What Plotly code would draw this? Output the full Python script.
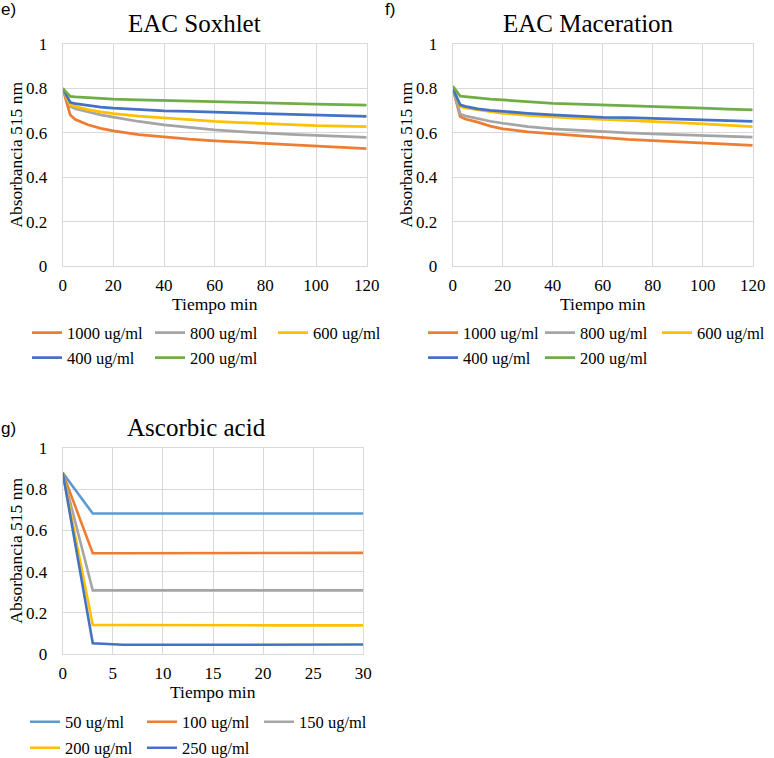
import plotly.graph_objects as go

# ---------------- data ----------------
time_ext = [0, 3, 5, 10, 15, 20, 30, 40, 50, 60, 70, 80, 90, 100, 110, 120]
conc_labels_ext = ["1000 ug/ml", "800 ug/ml", "600 ug/ml", "400 ug/ml", "200 ug/ml"]

sox_1000 = [0.80, 0.680, 0.660, 0.636, 0.620, 0.609, 0.592, 0.580, 0.571, 0.564, 0.558, 0.553, 0.548, 0.542, 0.535, 0.529]
sox_800 = [0.80, 0.719, 0.708, 0.694, 0.681, 0.671, 0.651, 0.636, 0.623, 0.613, 0.605, 0.598, 0.593, 0.588, 0.583, 0.579]
sox_600 = [0.80, 0.726, 0.718, 0.704, 0.694, 0.686, 0.675, 0.666, 0.658, 0.651, 0.646, 0.641, 0.636, 0.632, 0.630, 0.628]
sox_400 = [0.80, 0.737, 0.731, 0.722, 0.716, 0.711, 0.704, 0.699, 0.696, 0.693, 0.688, 0.684, 0.681, 0.678, 0.676, 0.674]
sox_200 = [0.80, 0.764, 0.762, 0.758, 0.755, 0.752, 0.748, 0.745, 0.741, 0.738, 0.736, 0.734, 0.731, 0.729, 0.727, 0.725]

mac_1000 = [0.80, 0.673, 0.662, 0.648, 0.630, 0.618, 0.604, 0.595, 0.585, 0.576, 0.570, 0.565, 0.559, 0.553, 0.548, 0.543]
mac_800 = [0.80, 0.685, 0.676, 0.663, 0.652, 0.643, 0.628, 0.618, 0.611, 0.606, 0.600, 0.595, 0.591, 0.588, 0.584, 0.580]
mac_600 = [0.80, 0.718, 0.712, 0.703, 0.695, 0.688, 0.678, 0.670, 0.665, 0.660, 0.656, 0.651, 0.646, 0.640, 0.634, 0.628]
mac_400 = [0.80, 0.726, 0.719, 0.708, 0.701, 0.696, 0.688, 0.681, 0.675, 0.670, 0.668, 0.666, 0.662, 0.658, 0.655, 0.652]
mac_200 = [0.81, 0.765, 0.763, 0.756, 0.752, 0.748, 0.740, 0.733, 0.729, 0.726, 0.722, 0.718, 0.714, 0.711, 0.707, 0.703]

time_asc = [0, 3, 6, 9, 12, 15, 18, 21, 24, 27, 30]
conc_labels_asc = ["50 ug/ml", "100 ug/ml", "150 ug/ml", "200 ug/ml", "250 ug/ml"]
asc_50 = [0.88, 0.682, 0.682, 0.682, 0.682, 0.681, 0.681, 0.681, 0.681, 0.682, 0.682]
asc_100 = [0.88, 0.489, 0.489, 0.489, 0.489, 0.489, 0.489, 0.489, 0.489, 0.490, 0.491]
asc_150 = [0.88, 0.309, 0.309, 0.309, 0.309, 0.309, 0.309, 0.309, 0.309, 0.309, 0.309]
asc_200 = [0.88, 0.141, 0.141, 0.140, 0.140, 0.139, 0.139, 0.139, 0.139, 0.139, 0.139]
asc_250 = [0.88, 0.052, 0.045, 0.044, 0.044, 0.045, 0.045, 0.046, 0.046, 0.046, 0.046]

titles = ["EAC Soxhlet", "EAC Maceration", "Ascorbic acid"]
panel_tags = ["e)", "f)", "g)"]
x_title = "Tiempo min"
y_title = "Absorbancia 515 nm"

# ---------------- style ----------------
W, H = 774, 758
SERIF = "Liberation Serif, Times New Roman, serif"
SANS = "Liberation Sans, Arial, sans-serif"
GRID = "#d9d9d9"
ext_colors = ["#ED7D31", "#A5A5A5", "#FFC000", "#4472C4", "#70AD47"]
asc_colors = ["#5B9BD5", "#ED7D31", "#A5A5A5", "#FFC000", "#4472C4"]


def px_x(p):
    return p / W


def px_y(p):
    return 1 - p / H


fig = go.Figure()

sox = [sox_1000, sox_800, sox_600, sox_400, sox_200]
mac = [mac_1000, mac_800, mac_600, mac_400, mac_200]
asc = [asc_50, asc_100, asc_150, asc_200, asc_250]

leg_e = ["legend", "legend", "legend", "legend2", "legend2"]
leg_f = ["legend3", "legend3", "legend3", "legend4", "legend4"]
leg_g = ["legend5", "legend5", "legend5", "legend6", "legend6"]

for i, ys in enumerate(sox):
    fig.add_trace(go.Scatter(x=time_ext, y=ys, mode="lines", name=conc_labels_ext[i],
                             line=dict(color=ext_colors[i], width=2.75),
                             xaxis="x", yaxis="y", legend=leg_e[i]))
for i, ys in enumerate(mac):
    fig.add_trace(go.Scatter(x=time_ext, y=ys, mode="lines", name=conc_labels_ext[i],
                             line=dict(color=ext_colors[i], width=2.75),
                             xaxis="x2", yaxis="y2", legend=leg_f[i]))
for i, ys in enumerate(asc):
    fig.add_trace(go.Scatter(x=time_asc, y=ys, mode="lines", name=conc_labels_asc[i],
                             line=dict(color=asc_colors[i], width=2.6),
                             xaxis="x3", yaxis="y3", legend=leg_g[i]))

tickfont = dict(family=SERIF, size=17, color="#000000")


def xax(domain, rng, dtick, anchor):
    return dict(domain=domain, range=rng, dtick=dtick, tick0=0, anchor=anchor,
                showgrid=True, gridcolor=GRID, gridwidth=1,
                showline=True, linecolor=GRID, linewidth=1.2, mirror=True,
                zeroline=False, ticks="", tickfont=tickfont, ticklabelstandoff=3,
                automargin=False, fixedrange=True)


def yax(domain, anchor):
    return dict(domain=domain, range=[0, 1], dtick=0.2, tick0=0, anchor=anchor,
                showgrid=True, gridcolor=GRID, gridwidth=1,
                showline=True, linecolor=GRID, linewidth=1.2, mirror=True,
                zeroline=False, ticks="", tickfont=tickfont, ticklabelstandoff=11,
                automargin=False, fixedrange=True)


# plot areas (pixel boxes)
e_box = (62.7, 366.7, 44, 266)
f_box = (452.7, 752.7, 44, 266)
g_box = (62.7, 363.3, 448, 654)


def dom(box):
    x0, x1, y0, y1 = box
    return [px_x(x0), px_x(x1)], [px_y(y1), px_y(y0)]


ex, ey = dom(e_box)
fx, fy = dom(f_box)
gx, gy = dom(g_box)

legfont = dict(family=SERIF, size=16.5, color="#000000")


def leg(xpix, ypix, ew):
    return dict(orientation="h", x=px_x(xpix), y=px_y(ypix), xanchor="left", yanchor="middle",
                xref="paper", yref="paper", entrywidth=ew, entrywidthmode="pixels",
                font=legfont, bgcolor="rgba(0,0,0,0)", borderwidth=0,
                itemclick=False, itemdoubleclick=False, tracegroupgap=0)


annotations = []
title_cx = [194, 588, 196]
for title, box, cx in zip(titles, [e_box, f_box, g_box], title_cx):
    x0, x1, y0, y1 = box
    annotations.append(dict(text=title, x=px_x(cx), y=px_y(y0 - 21), xref="paper", yref="paper",
                            showarrow=False, xanchor="center", yanchor="middle",
                            font=dict(family=SERIF, size=25, color="#000000")))
    annotations.append(dict(text=x_title, x=px_x((x0 + x1) / 2), y=px_y(y1 + 38), xref="paper", yref="paper",
                            showarrow=False, xanchor="center", yanchor="middle",
                            font=dict(family=SERIF, size=17.5, color="#000000")))
    annotations.append(dict(text=y_title, x=px_x(x0 - 47), y=px_y((y0 + y1) / 2), xref="paper", yref="paper",
                            showarrow=False, xanchor="center", yanchor="middle", textangle=-90,
                            font=dict(family=SERIF, size=17.5, color="#000000")))

for tag, (tx, ty) in zip(panel_tags, [(0, 10), (384, 10), (0, 428)]):
    annotations.append(dict(text=tag, x=px_x(tx), y=px_y(ty), xref="paper", yref="paper",
                            showarrow=False, xanchor="left", yanchor="middle", borderpad=0,
                            font=dict(family=SANS, size=17, color="#000000")))

fig.update_layout(
    width=W, height=H,
    margin=dict(l=0, r=0, t=0, b=0, autoexpand=False),
    paper_bgcolor="#ffffff", plot_bgcolor="#ffffff",
    showlegend=True,
    xaxis=xax(ex, [0, 120], 20, "y"), yaxis=yax(ey, "x"),
    xaxis2=xax(fx, [0, 120], 20, "y2"), yaxis2=yax(fy, "x2"),
    xaxis3=xax(gx, [0, 30], 5, "y3"), yaxis3=yax(gy, "x3"),
    legend=leg(27, 333, 78), legend2=leg(27, 358, 78),
    legend3=leg(423, 333, 72), legend4=leg(423, 358, 72),
    legend5=leg(25, 722, 72), legend6=leg(25, 748, 72),
    annotations=annotations,
)

fig.write_html(
    "out.html",
    config={"displayModeBar": False},
    post_script="document.body.style.margin='0';document.body.style.padding='0';"
                "document.body.style.overflow='hidden';",
)
